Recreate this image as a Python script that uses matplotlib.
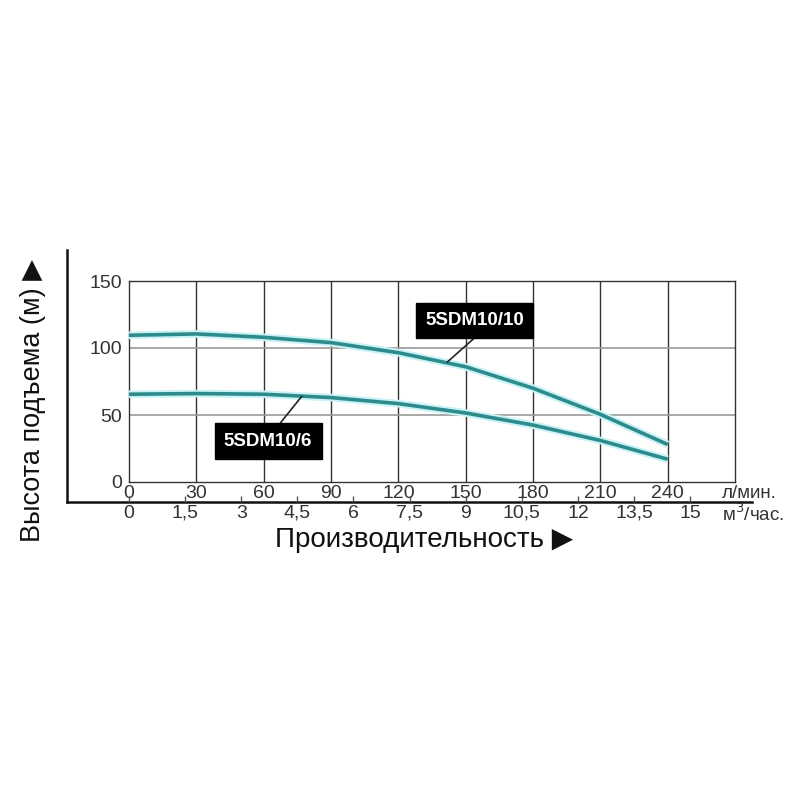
import numpy as np
import matplotlib
matplotlib.use("Agg")
import matplotlib.pyplot as plt
import matplotlib.patheffects as pe

plt.rcParams['font.family'] = ['Liberation Sans', 'DejaVu Sans']

# data
flow_lpm = [0, 30, 60, 90, 120, 150, 180, 210, 240]
head_10_10 = [109.5, 110.5, 108, 104, 96.5, 86, 70, 50.5, 28]
head_10_6 = [65.5, 66, 65.5, 63, 58.5, 51.5, 42.5, 31, 17]

lpm_ticks = [0, 30, 60, 90, 120, 150, 180, 210, 240]
m3_ticks = [0, 1.5, 3, 4.5, 6, 7.5, 9, 10.5, 12, 13.5, 15]
m3_labels = ['0', '1,5', '3', '4,5', '6', '7,5', '9', '10,5', '12', '13,5', '15']
head_ticks = [0, 50, 100, 150]

fig = plt.figure(figsize=(8, 8), dpi=100)

# outer L-shaped frame
outer = fig.add_axes([0.08375, 0.3725, 0.856, 0.315], zorder=0)
outer.patch.set_visible(False)
for s in ['top', 'right']:
    outer.spines[s].set_visible(False)
for s in ['left', 'bottom']:
    outer.spines[s].set_linewidth(1.8)
    outer.spines[s].set_color('#111111')
outer.set_xticks([])
outer.set_yticks([])

ax = fig.add_axes([0.16125, 0.3975, 0.7575, 0.25125], zorder=1)
ax.patch.set_visible(False)
ax.set_xlim(0, 270)
ax.set_ylim(0, 150)

for x in lpm_ticks[1:]:
    ax.axvline(x, color='#333333', lw=1.0, zorder=1)
for y in [50, 100]:
    ax.axhline(y, color='#9a9a9a', lw=1.2, zorder=1)

for s in ax.spines.values():
    s.set_color('#333333')
    s.set_linewidth(1.0)

glow = [pe.Stroke(linewidth=5.5, foreground='#c8f2f5'), pe.Normal()]
for h in [head_10_10, head_10_6]:
    ax.plot(flow_lpm, h, color='#2e8b8c', lw=2.6, zorder=3,
            path_effects=glow, solid_capstyle='butt')

ax.set_xticks(lpm_ticks)
ax.set_xticklabels([str(v) for v in lpm_ticks])
ax.set_yticks(head_ticks)
ax.tick_params(axis='both', length=0, labelsize=14, labelcolor='#333333')
ax.tick_params(axis='x', pad=2)
ax.tick_params(axis='y', pad=5)
for lbl in ax.get_yticklabels():
    lbl.set_verticalalignment('center_baseline')

sec = ax.secondary_xaxis(-0.1, functions=(lambda x: x * 0.06, lambda m: m / 0.06))
sec.set_xticks(m3_ticks)
sec.set_xticklabels(m3_labels)
sec.spines['bottom'].set_visible(False)
sec.tick_params(direction='in', length=4, width=1, color='#555555',
                labelsize=14, labelcolor='#333333', pad=2)

ax.text(0.978, -0.055, 'л/мин.', transform=ax.transAxes, fontsize=13.5,
        color='#333333', ha='left', va='center')
ax.text(0.978, -0.16, 'м$^3$/час.', transform=ax.transAxes, fontsize=13.5,
        color='#333333', ha='left', va='center')

# labels for the curves
box = dict(boxstyle='square,pad=0.5', fc='black', ec='black')
ax.annotate('5SDM10/10', xy=(141.8, 89.5), xytext=(154, 120.5),
            fontsize=13.5, fontweight='bold', color='white', ha='center',
            va='center', bbox=box, zorder=5,
            arrowprops=dict(arrowstyle='-', color='#222222', lw=1.2,
                            shrinkA=0, shrinkB=0, relpos=(0.6, 0)))
ax.annotate('5SDM10/6', xy=(77, 64), xytext=(62, 30.5),
            fontsize=13.5, fontweight='bold', color='white', ha='center',
            va='center', bbox=box, zorder=5,
            arrowprops=dict(arrowstyle='-', color='#222222', lw=1.2,
                            shrinkA=0, shrinkB=0, relpos=(0.55, 1)))

fig.text(0.041, 0.5, 'Высота подъема (м) ▶', rotation=90, fontsize=19.5,
         ha='center', va='center', color='#111111')
fig.text(0.53, 0.325, 'Производительность ▶', fontsize=20,
         ha='center', va='center', color='#111111')

fig.savefig('out.png', dpi=100)
